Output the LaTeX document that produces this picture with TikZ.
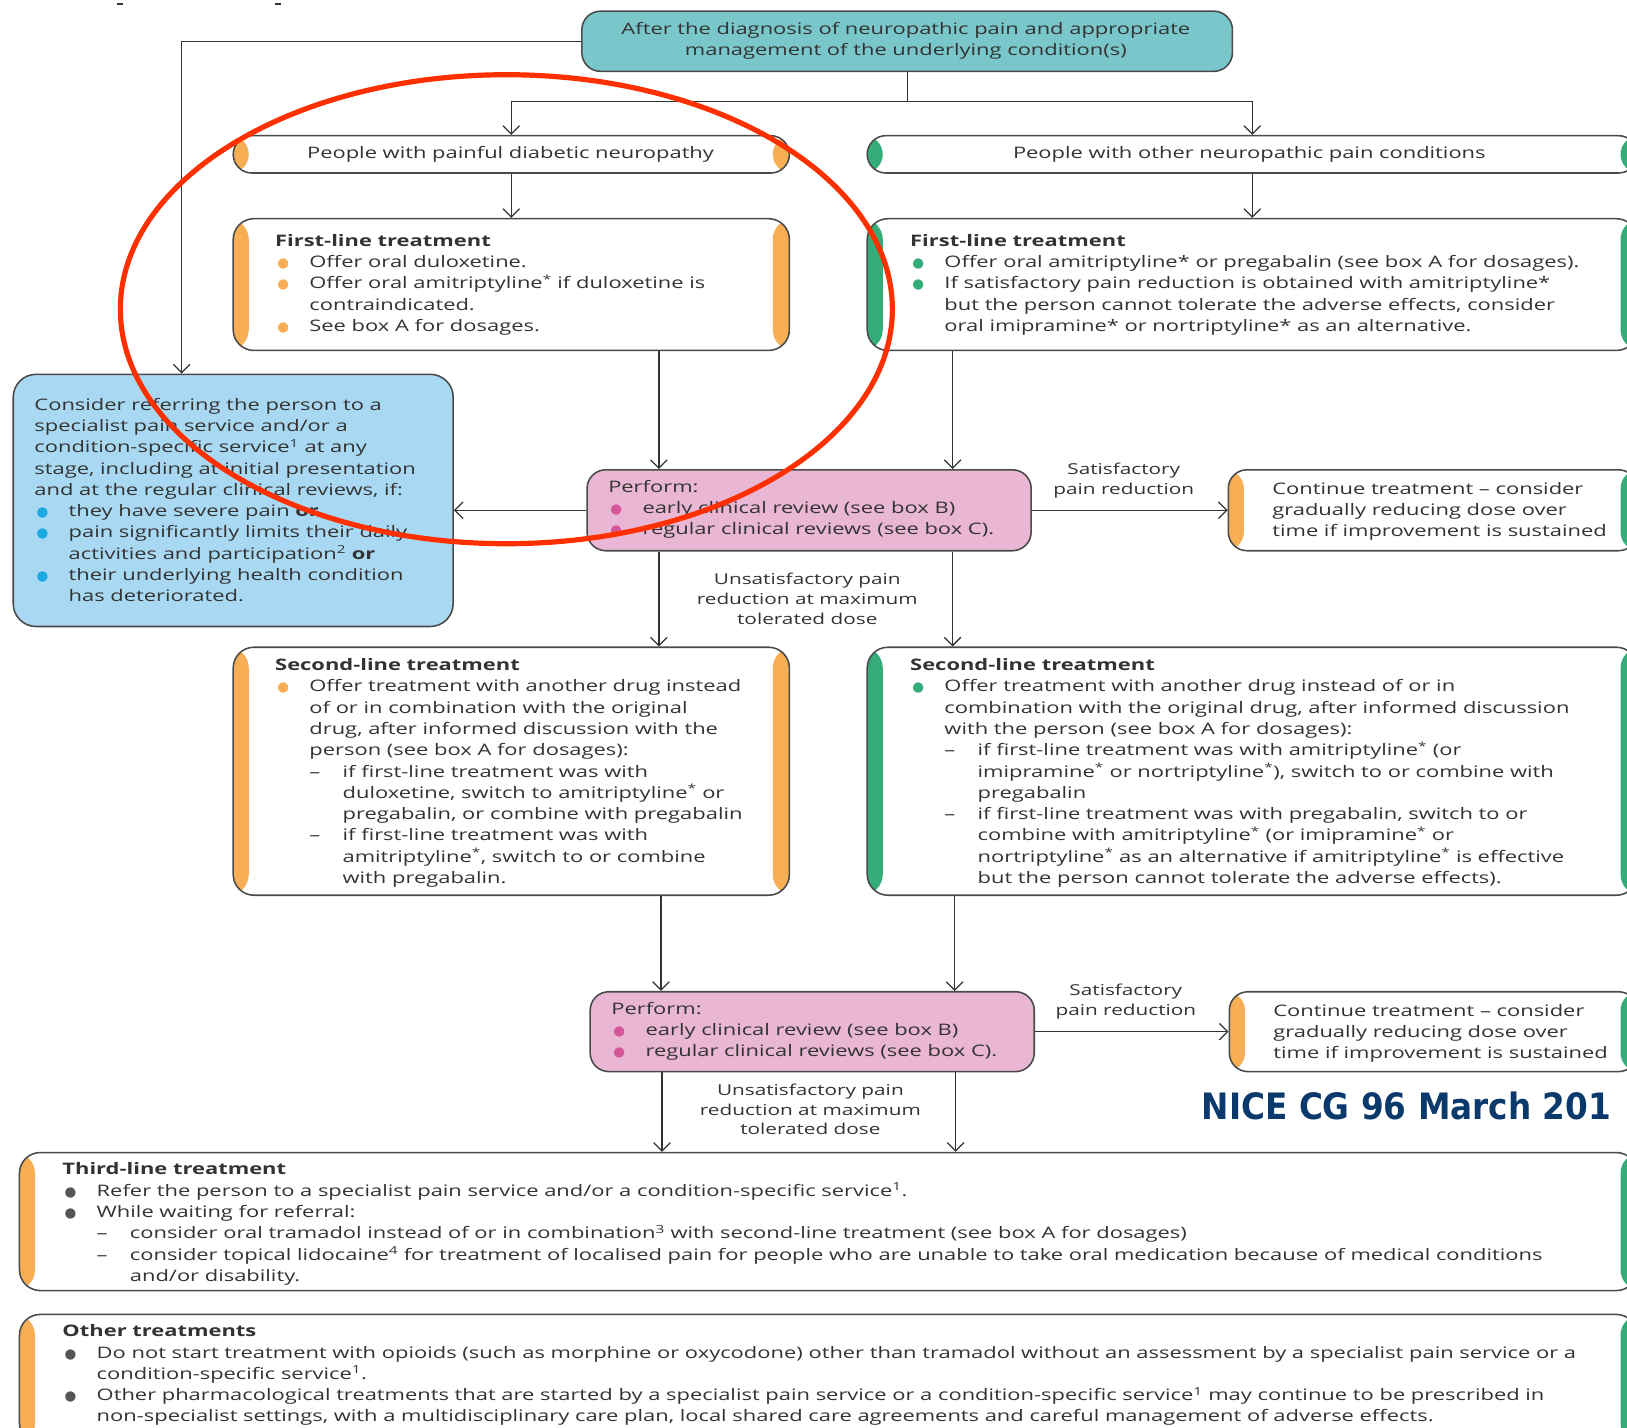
\documentclass[tikz,border=0pt]{standalone}
\usepackage{fontspec}
\setmainfont[FakeStretch=1.38]{Open Sans}
\newfontfamily\symf{DejaVu Sans}
\newfontfamily\nicef[FakeStretch=0.9]{DejaVu Sans}
\usetikzlibrary{arrows.meta}
\definecolor{ora}{HTML}{F7AE55}
\definecolor{grn}{HTML}{35AD7B}
\definecolor{blu}{HTML}{1BA9E1}
\definecolor{pnk}{HTML}{D4579A}
\definecolor{dg}{HTML}{555555}
\definecolor{titlefill}{HTML}{79C7CB}
\definecolor{bluefill}{HTML}{A9D9F2}
\definecolor{pinkfill}{HTML}{E9B6D3}
\definecolor{edge}{HTML}{4A4A4A}
\definecolor{linec}{HTML}{333333}
\definecolor{txt}{HTML}{333333}
\definecolor{navy}{HTML}{0A3A6B}
\definecolor{redline}{HTML}{FF3000}
\newcommand\bodyfont{\fontsize{15.3}{20.5}\selectfont}
\newcommand\lblfont{\fontsize{14.5}{19}\selectfont}
\newcommand\dotb[1]{\textcolor{#1}{\symf\fontsize{13}{13}\selectfont ●}}
\newcommand\bitm[2]{\makebox[33pt][l]{\hspace*{2pt}\dotb{#1}}#2}
\newcommand\bcnt[1]{\hspace*{33pt}#1}
\newcommand\ditm[1]{\hspace*{33pt}\makebox[32pt][l]{–}#1}
\newcommand\dcnt[1]{\hspace*{65pt}#1}
\begin{document}
\begin{tikzpicture}[x=1pt,y=-1pt,
  every node/.style={text=txt},
  frame/.style={draw=edge, line width=1.5pt, fill=white, inner sep=0pt, anchor=north west, rounded corners=#1},
  frame/.default=18pt,
  strips/.style 2 args={path picture={\fill[#1] (path picture bounding box.north west) rectangle ([xshift=15pt]path picture bounding box.south west); \fill[#2] (path picture bounding box.north east) rectangle ([xshift=-16pt]path picture bounding box.south east);}},
  txtblock/.style={anchor=north west, inner sep=0pt, align=left, font=\bodyfont, execute at begin node={\bodyfont\strut}},
  lbl/.style={anchor=center, inner sep=0pt, align=center, font=\lblfont, execute at begin node={\lblfont\strut}, execute at end node={\strut}},
  ctr/.style={anchor=center, inner sep=0pt, align=center, font=\bodyfont, execute at begin node={\bodyfont\strut}, execute at end node={\strut}},
  conn/.style={draw=linec, line width=1.2pt},
  arr/.style={conn, -{Straight Barb[length=8pt,width=16pt]}},
]
\path[use as bounding box] (0,0) rectangle (1568,1376);
\clip (0,0) rectangle (1568,1376);
\fill[txt] (113,3) rectangle (119,5);
\fill[txt] (265,3) rectangle (271,5);

% boxes
\node[frame, fill=titlefill, minimum width=627pt, minimum height=58pt] (title) at (560,10) {};
\node[frame, strips={ora}{ora}, minimum width=536pt, minimum height=36pt] (pdn) at (224,130) {};
\node[frame, strips={grn}{grn}, minimum width=742pt, minimum height=36pt] (pon) at (835,130) {};
\node[frame=20pt, strips={ora}{ora}, minimum width=536pt, minimum height=127pt] (fl1) at (224,210) {};
\node[frame=20pt, strips={grn}{grn}, minimum width=742pt, minimum height=127pt] (fl2) at (835,210) {};
\node[frame=22pt, fill=bluefill, minimum width=424pt, minimum height=243pt] (blue) at (12,360) {};
\node[frame, fill=pinkfill, minimum width=428pt, minimum height=78pt] (perf1) at (565,452) {};
\node[frame, strips={ora}{grn}, minimum width=394pt, minimum height=78pt] (cont1) at (1183,452) {};
\node[frame=20pt, strips={ora}{ora}, minimum width=536pt, minimum height=239pt] (sl1) at (224,623) {};
\node[frame=20pt, strips={grn}{grn}, minimum width=742pt, minimum height=239pt] (sl2) at (835,623) {};
\node[frame, fill=pinkfill, minimum width=428pt, minimum height=77pt] (perf2) at (568,955) {};
\node[frame, strips={ora}{grn}, minimum width=393pt, minimum height=77pt] (cont2) at (1184,955) {};
\node[frame=20pt, strips={ora}{grn}, minimum width=1559pt, minimum height=133pt] (third) at (18,1110) {};
\node[frame=20pt, strips={ora}{grn}, minimum width=1559pt, minimum height=125pt] (other) at (18,1266) {};

% connectors
\coordinate (xg) at (175,0);
\coordinate (xa) at (635,0);
\coordinate (xb) at (918,0);
\coordinate (xc) at (637,0);
\coordinate (xd) at (920,0);
\coordinate (xe) at (638,0);
\coordinate (xf) at (921,0);
\draw[arr] (title.west) -| (blue.north -| xg);
\draw[conn] (title.south) -- ++(0,28) coordinate (j1);
\draw[arr] (j1) -| (pdn.north);
\draw[arr] (j1) -| (pon.north);
\draw[arr] (pdn.south) -- (fl1.north);
\draw[arr] (pon.south) -- (fl2.north);
\draw[arr] (fl1.south -| xa) -- (perf1.north -| xa);
\draw[arr] (fl2.south -| xb) -- (perf1.north -| xb);
\draw[arr] (perf1.west) -- (perf1.west -| blue.east);
\draw[arr] (perf1.east) -- (perf1.east -| cont1.west);
\draw[arr] (perf1.south -| xa) -- (sl1.north -| xa);
\draw[arr] (perf1.south -| xb) -- (sl2.north -| xb);
\draw[arr] (sl1.south -| xc) -- (perf2.north -| xc);
\draw[arr] (sl2.south -| xd) -- (perf2.north -| xd);
\draw[arr] (perf2.east) -- (perf2.east -| cont2.west);
\draw[arr] (perf2.south -| xe) -- (third.north -| xe);
\draw[arr] (perf2.south -| xf) -- (third.north -| xf);

% texts
\node[ctr] (titlet) at (873,40.5) {After the diagnosis of neuropathic pain and appropriate\\management of the underlying condition(s)};
\node[ctr] (pdnt) at (492,149) {People with painful diabetic neuropathy};
\node[ctr] (pont) at (1204,149) {People with other neuropathic pain conditions};

\node[txtblock] (fl1t) at (265,225.5) {\textbf{First-line treatment}\\
\bitm{ora}{Offer oral duloxetine.}\\
\bitm{ora}{Offer oral amitriptyline\textsuperscript{*} if duloxetine is}\\
\bcnt{contraindicated.}\\
\bitm{ora}{See box A for dosages.}};

\node[txtblock] (fl2t) at (877,225.5) {\textbf{First-line treatment}\\
\bitm{grn}{Offer oral amitriptyline* or pregabalin (see box A for dosages).}\\
\bitm{grn}{If satisfactory pain reduction is obtained with amitriptyline*}\\
\bcnt{but the person cannot tolerate the adverse effects, consider}\\
\bcnt{oral imipramine* or nortriptyline* as an alternative.}};

\node[txtblock] (bluet) at (33,383.5) {Consider referring the person to a\\
specialist pain service and/or a\\
condition-specific service\textsuperscript{1} at any\\
stage, including at initial presentation\\
and at the regular clinical reviews, if:\\
\bitm{blu}{they have severe pain \textbf{or}}\\
\bitm{blu}{pain significantly limits their daily}\\
\bcnt{activities and participation\textsuperscript{2} \textbf{or}}\\
\bitm{blu}{their underlying health condition}\\
\bcnt{has deteriorated.}};

\node[txtblock] (p1t) at (586,462.5) {Perform:\\
\bitm{pnk}{early clinical review (see box B)}\\
\bitm{pnk}{regular clinical reviews (see box C).}};

\node[lbl] (sat1) at (1083,464.5) {Satisfactory\\pain reduction};
\node[txtblock] (c1t) at (1226,464.5) {Continue treatment – consider\\gradually reducing dose over\\time if improvement is sustained};
\node[lbl] (unsat1) at (778,580) {Unsatisfactory pain\\reduction at maximum\\tolerated dose};

\node[txtblock] (sl1t) at (265,634.5) {\textbf{Second-line treatment}\\
\bitm{ora}{Offer treatment with another drug instead}\\
\bcnt{of or in combination with the original}\\
\bcnt{drug, after informed discussion with the}\\
\bcnt{person (see box A for dosages):}\\
\ditm{if first-line treatment was with}\\
\dcnt{duloxetine, switch to amitriptyline\textsuperscript{*} or}\\
\dcnt{pregabalin, or combine with pregabalin}\\
\ditm{if first-line treatment was with}\\
\dcnt{amitriptyline\textsuperscript{*}, switch to or combine}\\
\dcnt{with pregabalin.}};

\node[txtblock] (sl2t) at (877,634.5) {\textbf{Second-line treatment}\\
\bitm{grn}{Offer treatment with another drug instead of or in}\\
\bcnt{combination with the original drug, after informed discussion}\\
\bcnt{with the person (see box A for dosages):}\\
\ditm{if first-line treatment was with amitriptyline\textsuperscript{*} (or}\\
\dcnt{imipramine\textsuperscript{*} or nortriptyline\textsuperscript{*}), switch to or combine with}\\
\dcnt{pregabalin}\\
\ditm{if first-line treatment was with pregabalin, switch to or}\\
\dcnt{combine with amitriptyline\textsuperscript{*} (or imipramine\textsuperscript{*} or}\\
\dcnt{nortriptyline\textsuperscript{*} as an alternative if amitriptyline\textsuperscript{*} is effective}\\
\dcnt{but the person cannot tolerate the adverse effects).}};

\node[txtblock] (p2t) at (589,965.5) {Perform:\\
\bitm{pnk}{early clinical review (see box B)}\\
\bitm{pnk}{regular clinical reviews (see box C).}};
\node[lbl] (sat2) at (1085,966.5) {Satisfactory\\pain reduction};
\node[txtblock] (c2t) at (1227,967.5) {Continue treatment – consider\\gradually reducing dose over\\time if improvement is sustained};
\node[lbl] (unsat2) at (781,1072) {Unsatisfactory pain\\reduction at maximum\\tolerated dose};

\node[anchor=west, inner sep=0pt, font=\nicef\bfseries\fontsize{35}{35}\selectfont, text=navy] (nice) at (1158,1066) {NICE CG 96 March 201};

\node[txtblock] (thirdt) at (60,1120.5) {\textbf{Third-line treatment}\\
\bitm{dg}{Refer the person to a specialist pain service and/or a condition-specific service\textsuperscript{1}.}\\
\bitm{dg}{While waiting for referral:}\\
\ditm{consider oral tramadol instead of or in combination\textsuperscript{3} with second-line treatment (see box A for dosages)}\\
\ditm{consider topical lidocaine\textsuperscript{4} for treatment of localised pain for people who are unable to take oral medication because of medical conditions}\\
\dcnt{and/or disability.}};

\node[txtblock] (othert) at (60,1276.5) {\textbf{Other treatments}\\
\bitm{dg}{Do not start treatment with opioids (such as morphine or oxycodone) other than tramadol without an assessment by a specialist pain service or a}\\
\bcnt{condition-specific service\textsuperscript{1}.}\\
\bitm{dg}{Other pharmacological treatments that are started by a specialist pain service or a condition-specific service\textsuperscript{1} may continue to be prescribed in}\\
\bcnt{non-specialist settings, with a multidisciplinary care plan, local shared care agreements and careful management of adverse effects.}};

% annotation
\draw[redline, line width=5pt] (488,298) ellipse [x radius=372, y radius=226];
\end{tikzpicture}
\end{document}
